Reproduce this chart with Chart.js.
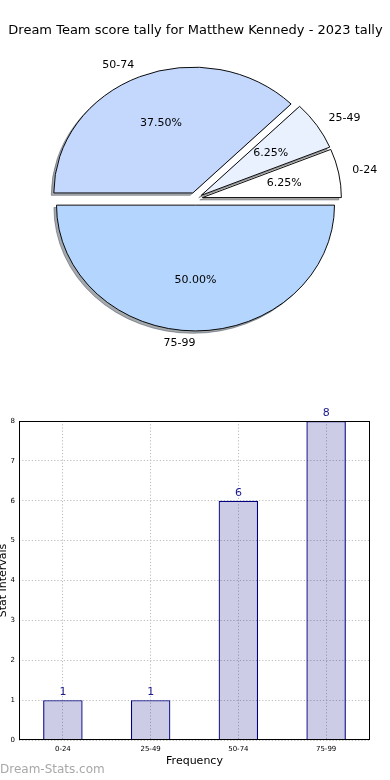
<!DOCTYPE html>
<html>
<head>
<meta charset="utf-8">
<script src="https://cdn.jsdelivr.net/npm/chart.js@4.4.0/dist/chart.umd.min.js"></script>
<style>
body{margin:0;background:#fff;width:390px;height:780px;position:relative;overflow:hidden;font-family:"DejaVu Sans"}
#pieWrap{position:absolute;left:0;top:0;width:390px;height:370px}
#barWrap{position:absolute;left:0;top:400px;width:390px;height:380px}
#mark{position:absolute;left:0;top:762px;font:12px "DejaVu Sans";color:#a8a8a8;white-space:nowrap}
</style>
</head>
<body>
<div id="pieWrap"><canvas id="pie"></canvas></div>
<div id="barWrap"><canvas id="bar"></canvas></div>
<div id="mark">Dream-Stats.com</div>
<script>
// data
const categories = ['0-24', '25-49', '50-74', '75-99'];
const tally = [1, 1, 6, 8];
const yTicks = [0, 1, 2, 3, 4, 5, 6, 7, 8];
const titleText = 'Dream Team score tally for Matthew Kennedy - 2023 tally';

// styles
const pieColors = ['#ffffff', '#eaf1fe', '#c4d8fe', '#b4d6fe'];
const font = '"DejaVu Sans"';

// matplotlib pie goes counter clockwise from 3 o'clock, chart.js goes clockwise -> reverse
const pieLabels = categories.slice().reverse();
const pieValues = tally.slice().reverse();
const pieFill = pieColors.slice().reverse();

const squash = 0.905;   // pie is drawn as an ellipse
const explode = 7;
const total = tally.reduce((s, v) => s + v, 0);

function shadowOf(hex) {
  const n = parseInt(hex.slice(1), 16);
  const r = (n >> 16) & 255, g = (n >> 8) & 255, b = n & 255;
  return 'rgba(' + Math.round(r * .3) + ',' + Math.round(g * .3) + ',' + Math.round(b * .3) + ',0.45)';
}

const mplPie = {
  id: 'mplPie',
  beforeDatasetsDraw(chart) {
    const ctx = chart.ctx;
    const arcs = chart.getDatasetMeta(0).data;
    const cx = arcs[0].x, cy = arcs[0].y;
    const dir = a => {
      const m = (a.startAngle + a.endAngle) / 2;
      return [Math.cos(m), Math.sin(m)];
    };
    ctx.save();
    ctx.translate(cx, cy);
    ctx.scale(1, squash);
    ctx.translate(-cx, -cy);
    // shadows first
    arcs.forEach(a => {
      const [c, s] = dir(a);
      const o = a.options;
      const sc = shadowOf(o.backgroundColor);
      a.options = Object.assign({}, o, {backgroundColor: sc, borderColor: sc});
      ctx.save();
      ctx.translate(c * explode - 2.6, s * explode + 2.4 / squash);
      a.draw(ctx);
      ctx.restore();
      a.options = o;
    });
    arcs.forEach(a => {
      const [c, s] = dir(a);
      ctx.save();
      ctx.translate(c * explode, s * explode);
      a.draw(ctx);
      ctx.restore();
    });
    ctx.restore();

    // labels + percents
    ctx.save();
    ctx.fillStyle = '#000';
    ctx.font = '11px ' + font;
    ctx.textBaseline = 'middle';
    arcs.forEach((a, i) => {
      const [c, s] = dir(a);
      const ox = cx + c * explode, oy = cy + s * explode;
      const at = f => [ox + c * f * a.outerRadius, cy + (oy + s * f * a.outerRadius - cy) * squash];
      const [lx, ly] = at(1.1);
      ctx.textAlign = c > 1e-9 ? 'left' : 'right';
      ctx.fillText(pieLabels[i], lx, ly);
      const [px, py] = at(0.6);
      ctx.textAlign = 'center';
      ctx.fillText((pieValues[i] / total * 100).toFixed(2) + '%', px, py);
    });
    ctx.restore();
    return false;
  }
};

new Chart(document.getElementById('pie'), {
  type: 'pie',
  data: {
    labels: pieLabels,
    datasets: [{
      data: pieValues,
      backgroundColor: pieFill,
      borderColor: '#000',
      borderWidth: 1,
      radius: 139
    }]
  },
  options: {
    responsive: true,
    maintainAspectRatio: false,
    animation: false,
    rotation: 90,
    layout: {padding: {top: 0, left: 1, right: 0, bottom: 11}},
    plugins: {
      legend: {display: false},
      tooltip: {enabled: false},
      title: {
        display: true,
        text: titleText,
        color: '#000',
        font: {family: font, size: 13, weight: 'normal'},
        padding: {top: 23, bottom: 0}
      }
    }
  },
  plugins: [mplPie]
});

// bar chart
const frame = {
  id: 'frame',
  afterDatasetsDraw(chart) {
    const {ctx, chartArea: a} = chart;
    ctx.save();
    ctx.strokeStyle = '#000';
    ctx.lineWidth = 1;
    ctx.strokeRect(Math.round(a.left) + 0.5, Math.round(a.top) + 0.5,
      Math.round(a.right - a.left) - 1, Math.round(a.bottom - a.top) - 1);
    ctx.restore();
  }
};

const valueLabels = {
  id: 'valueLabels',
  afterDatasetsDraw(chart) {
    const ctx = chart.ctx;
    ctx.save();
    ctx.fillStyle = '#1a1a90';
    ctx.font = '11px ' + font;
    ctx.textAlign = 'center';
    ctx.textBaseline = 'alphabetic';
    chart.getDatasetMeta(0).data.forEach((bar, i) => {
      ctx.fillText(String(tally[i]), bar.x, bar.y - 5);
    });
    ctx.restore();
  }
};

new Chart(document.getElementById('bar'), {
  type: 'bar',
  data: {
    labels: categories,
    datasets: [{
      data: tally,
      backgroundColor: 'rgba(0,0,128,0.2)',
      borderColor: '#000080',
      borderWidth: 1.2,
      barPercentage: 0.45,
      categoryPercentage: 1
    }]
  },
  options: {
    responsive: true,
    maintainAspectRatio: false,
    animation: false,
    layout: {padding: {top: 21, right: 20, left: 0, bottom: 0}},
    plugins: {legend: {display: false}, tooltip: {enabled: false}},
    scales: {
      x: {
        offset: true,
        grid: {offset: false, color: '#bdbdbd', lineWidth: 1, drawTicks: false},
        border: {display: false, dash: [1.2, 2]},
        ticks: {color: '#000', font: {family: font, size: 7}, padding: 5, maxRotation: 0},
        title: {display: true, text: 'Frequency', color: '#000', font: {family: font, size: 11}, padding: {top: 0, bottom: 12.4}},
        afterFit(s) { s.height = 40; }
      },
      y: {
        min: 0,
        max: 8,
        afterBuildTicks(s) { s.ticks = yTicks.map(v => ({value: v})); },
        grid: {color: '#bdbdbd', lineWidth: 1, drawTicks: false},
        border: {display: false, dash: [1.2, 2]},
        ticks: {color: '#000', font: {family: font, size: 7}, padding: 4},
        title: {display: true, text: 'Stat Intervals', color: '#000', font: {family: font, size: 11}, padding: {top: -3, bottom: 0}},
        afterFit(s) { s.width = 19; }
      }
    }
  },
  plugins: [frame, valueLabels]
});
</script>
</body>
</html>
